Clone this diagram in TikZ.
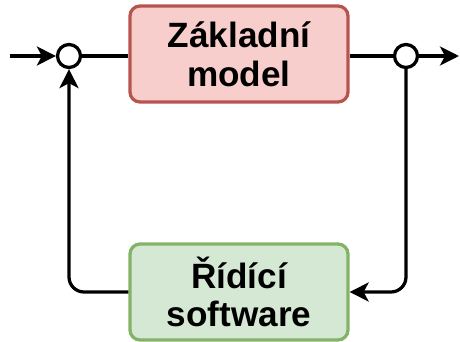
\documentclass[tikz,border=0pt]{standalone}
\usepackage{xcolor}
\usepackage{fontspec}
\setmainfont{Liberation Sans}
\usetikzlibrary{arrows.meta}
\definecolor{lightred}{HTML}{f8cecc}
\definecolor{darkred}{HTML}{b85450}
\definecolor{lightgreen}{HTML}{d5e8d4}
\definecolor{darkgreen}{HTML}{82b366}

\begin{document}
\begin{tikzpicture}[line width=0.065cm,
    block/.style={draw, rounded corners=0.2cm, text centered, align=center, minimum width=4.36cm, minimum height=1.92cm, font=\fontsize{20}{22}\selectfont\bfseries},
    junction/.style={draw, circle, fill=white, inner sep=0pt, minimum size=0.46cm},
    arr/.style={-{Stealth[length=0.38cm, width=0.38cm, inset=0.1cm]}}]

        \useasboundingbox (0,0) rectangle (9.2,-6.84);

        % Nodes
        \node (model) at (4.78,-1.08) [block, fill=lightred, draw=darkred] {Základní\\model};
        \node (sw) at (4.78,-5.84) [block, fill=lightgreen, draw=darkgreen] {Řídící\\software};
        \node (sum) at (1.38,-1.12) [junction] {};
        \node (split) at (8.12,-1.12) [junction] {};
        \coordinate (in) at (0.2,-1.12);
        \coordinate (out) at (9.18,-1.12);

        % Arrows
        \draw[arr] (in) -- (sum);
        \draw (sum) -- (sum -| model.west);
        \draw (split -| model.east) -- (split);
        \draw[arr] (split) -- (out);
        \draw[arr, rounded corners=0.3cm] (sw.west) -| (sum.south);
        \draw[arr, rounded corners=0.3cm] (split.south) |- (sw.east);

    \end{tikzpicture}
\end{document}
